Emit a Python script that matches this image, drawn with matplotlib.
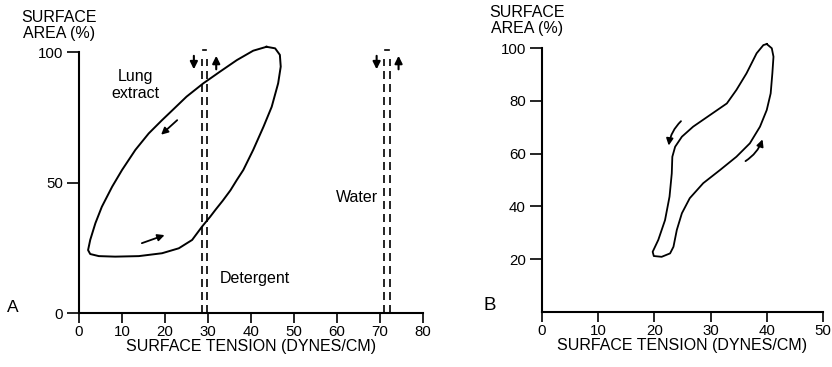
import matplotlib.pyplot as plt

plt.rcParams['font.family'] = ['Liberation Sans', 'DejaVu Sans']

# panel A: loop of lung extract (surface tension vs surface area)
lung_tension = [43.6, 45.6, 46.7, 46.9, 46.3, 44.8, 42.9, 40.5, 38.2, 36.7, 35.2, 33.4,
                31.8, 30.5, 28.6, 26.3, 23.2, 19.3, 13.9, 8.4, 4.6, 2.6, 2.1, 2.6,
                3.8, 5.3, 7.7, 10.0, 13.1, 16.2, 19.3, 21.4, 25.0, 28.9, 32.8, 36.7,
                40.5, 43.6]
lung_area = [102.0, 101.4, 98.9, 94.4, 88.0, 79.0, 71.4, 62.5, 54.8, 51.0, 47.0, 43.0,
             39.7, 36.9, 33.1, 28.0, 24.8, 22.9, 21.8, 21.6, 21.8, 22.6, 24.1, 28.0,
             34.4, 40.7, 48.4, 54.8, 62.5, 68.8, 73.9, 77.2, 82.9, 88.0, 92.5, 96.9,
             100.5, 102.0]

# detergent and water keep a constant tension whatever the area
detergent_x = [28.6, 29.8]
water_x = [70.9, 72.3]

# panel B: second loop
b_tension = [40.0, 40.9, 41.2, 41.0, 40.7, 40.0, 38.8, 37.0, 34.6, 31.7, 28.7, 26.3,
             24.9, 24.0, 23.4, 22.8, 21.3, 19.9, 19.7, 20.7, 21.9, 22.7, 23.1, 23.2,
             23.7, 24.9, 26.9, 29.9, 32.9, 34.6, 36.4, 38.2, 39.4, 40.0]
b_area = [101.5, 99.9, 96.7, 90.4, 82.8, 76.5, 70.2, 63.9, 58.8, 53.8, 48.8, 43.1,
          37.4, 31.1, 24.7, 22.2, 20.9, 21.2, 22.8, 27.3, 34.8, 43.7, 52.5, 58.8,
          62.6, 66.4, 70.2, 74.6, 79.0, 84.1, 90.4, 98.0, 101.1, 101.5]

a_xticks = [0, 10, 20, 30, 40, 50, 60, 70, 80]
a_yticks = [0, 50, 100]
b_xticks = [0, 10, 20, 30, 40, 50]
b_yticks = [20, 40, 60, 80, 100]

fig = plt.figure(figsize=(8.32, 3.67), dpi=100)
axA = fig.add_axes([0.0950, 0.1471, 0.4135, 0.7112])
axB = fig.add_axes([0.6514, 0.1499, 0.3377, 0.7193])

for ax in (axA, axB):
    ax.spines['top'].set_visible(False)
    ax.spines['right'].set_visible(False)
    ax.spines['left'].set_linewidth(1.5)
    ax.spines['bottom'].set_linewidth(1.5)
    ax.tick_params(axis='y', length=8.5, width=1.2, pad=3, labelsize=10.8)
    ax.tick_params(axis='x', length=7, width=1.2, pad=1.5, labelsize=10.8)
    ax.set_ylim(0, 100)
    ax.set_xlabel('SURFACE TENSION (DYNES/CM)', fontsize=11.5, labelpad=0)

# --- A ---
axA.set_xlim(0, 80)
axA.set_xticks(a_xticks)
axA.set_yticks(a_yticks)
axA.plot(lung_tension, lung_area, color='black', lw=1.4, clip_on=False,
         solid_joinstyle='round')

for xs in (detergent_x, water_x):
    for x in xs:
        axA.plot([x, x], [0, 97.5], color='black', lw=1.2, dashes=(4.8, 3.0))
    axA.plot([xs[0] + 0.3, xs[1] - 0.3], [100.8, 100.8], color='black', lw=1.2,
             clip_on=False)

arrow = dict(arrowstyle='-|>', color='black', lw=1.5, mutation_scale=11)
for x_down, x_up in ((26.7, 31.9), (69.2, 74.3)):
    axA.annotate('', xy=(x_down, 92.3), xytext=(x_down, 99.6), arrowprops=arrow,
                 annotation_clip=False)
    axA.annotate('', xy=(x_up, 99.6), xytext=(x_up, 92.3), arrowprops=arrow,
                 annotation_clip=False)

thin = dict(arrowstyle='-|>', color='black', lw=1.3, mutation_scale=10)
axA.annotate('', xy=(18.6, 67.6), xytext=(23.3, 74.6), arrowprops=thin)
axA.annotate('', xy=(20.5, 30.2), xytext=(14.0, 26.4), arrowprops=thin)

axA.text(13.2, 87.4, 'Lung\nextract', ha='center', va='center', fontsize=11.5,
         linespacing=1.15)
axA.text(69.5, 44.1, 'Water', ha='right', va='center', fontsize=11.5)
axA.text(32.8, 13.4, 'Detergent', ha='left', va='center', fontsize=11.5)

# --- B ---
axB.set_xlim(0, 50)
axB.set_xticks(b_xticks)
axB.set_yticks(b_yticks)
axB.plot(b_tension, b_area, color='black', lw=1.3, clip_on=False,
         solid_joinstyle='round')
axB.annotate('', xy=(22.5, 62.0), xytext=(25.1, 73.0),
             arrowprops=dict(thin, connectionstyle='arc3,rad=0.2'))
axB.annotate('', xy=(39.4, 66.4), xytext=(35.8, 56.6),
             arrowprops=dict(thin, connectionstyle='arc3,rad=0.2'))

# axis titles and panel letters
fig.text(59 / 832, 1 - 10 / 367, 'SURFACE\nAREA (%)', ha='center', va='top',
         fontsize=11.5, linespacing=1.1)
fig.text(527 / 832, 1 - 5 / 367, 'SURFACE\nAREA (%)', ha='center', va='top',
         fontsize=11.5, linespacing=1.1)
fig.text(13 / 832, 1 - 308 / 367, 'A', ha='center', va='center', fontsize=12.5)
fig.text(490 / 832, 1 - 305 / 367, 'B', ha='center', va='center', fontsize=13.5)

fig.savefig('out.png', dpi=100)
